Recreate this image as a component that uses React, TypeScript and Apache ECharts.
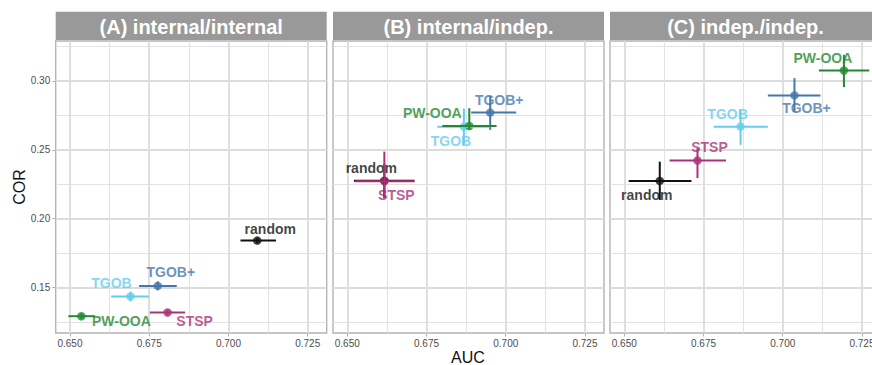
import React, { useEffect, useRef } from "react";
import * as echarts from "echarts";

// ---------- data ----------
const METHODS = ["random", "TGOB+", "TGOB", "PW-OOA", "STSP"];
const COLORS = ["#111111", "#4477AA", "#66CCEE", "#228833", "#AA3377"];
const PANEL_TITLES = ["(A) internal/internal", "(B) internal/indep.", "(C) indep./indep."];

// Panel A: internal/internal
const AUC_A = [0.7091, 0.6777, 0.6691, 0.6536, 0.6808];
const AUC_LO_A = [0.7038, 0.6718, 0.663, 0.6495, 0.6752];
const AUC_HI_A = [0.715, 0.6837, 0.6749, 0.6579, 0.6863];
const COR_A = [0.1841, 0.1512, 0.1435, 0.1292, 0.1319];
const COR_LO_A = [0.182, 0.148, 0.14, 0.1272, 0.1298];
const COR_HI_A = [0.1862, 0.1545, 0.147, 0.1312, 0.134];

// Panel B: internal/indep.
const AUC_B = [0.6617, 0.6951, 0.6868, 0.6885, 0.6617];
const AUC_LO_B = [0.6521, 0.6891, 0.6784, 0.68, 0.6525];
const AUC_HI_B = [0.6712, 0.7033, 0.695, 0.6971, 0.6712];
const COR_B = [0.2276, 0.277, 0.2668, 0.2673, 0.2272];
const COR_LO_B = [0.215, 0.2645, 0.2536, 0.2645, 0.2149];
const COR_HI_B = [0.24, 0.289, 0.28, 0.2802, 0.2487];

// Panel C: indep./indep.
const AUC_C = [0.6612, 0.7037, 0.6867, 0.7193, 0.6731];
const AUC_LO_C = [0.6514, 0.6953, 0.6782, 0.7114, 0.6643];
const AUC_HI_C = [0.6712, 0.7119, 0.6953, 0.7273, 0.6821];
const COR_C = [0.2274, 0.2895, 0.2668, 0.3076, 0.2422];
const COR_LO_C = [0.2136, 0.2775, 0.2536, 0.2955, 0.2294];
const COR_HI_C = [0.2414, 0.302, 0.279, 0.319, 0.2512];

const X_TICKS = [0.65, 0.675, 0.7, 0.725];
const X_MINOR = [0.6625, 0.6875, 0.7125];
const Y_TICKS = [0.15, 0.2, 0.25, 0.3];
const Y_MINOR = [0.125, 0.175, 0.225, 0.275, 0.325];
const X_RANGE = [0.6455, 0.731];
const Y_RANGE = [0.117, 0.329];

// ---------- layout ----------
const FONT = "'Liberation Sans', Arial, Helvetica, sans-serif";
const PANEL_LEFT = [55.7, 333, 610];
const PANEL_W = 271;
const PANEL_TOP = 41;
const PANEL_H = 292;
// label offsets (px) relative to each point, per panel, per method
const LABEL_OFFSETS = [
  [[13, -12], [13, -14], [-19, -14], [40, 5], [27, 9]],
  [[-13, -13], [9, -13], [-13, 14], [-37, -13], [12, 14]],
  [[-13, 14], [12, 13], [-13, -13], [-21, -12], [12, -14]],
];

const AUC = [AUC_A, AUC_B, AUC_C];
const AUC_LO = [AUC_LO_A, AUC_LO_B, AUC_LO_C];
const AUC_HI = [AUC_HI_A, AUC_HI_B, AUC_HI_C];
const COR = [COR_A, COR_B, COR_C];
const COR_LO = [COR_LO_A, COR_LO_B, COR_LO_C];
const COR_HI = [COR_HI_A, COR_HI_B, COR_HI_C];

function buildOption(): any {
  const grids = PANEL_LEFT.map((l) => ({
    left: l,
    top: PANEL_TOP,
    width: PANEL_W,
    height: PANEL_H,
    show: true,
    borderColor: "#b3b3b3",
    borderWidth: 1.4,
    backgroundColor: "#ffffff",
    containLabel: false,
    outerBoundsMode: "none",
  }));

  const xAxes: any[] = [];
  const yAxes: any[] = [];
  for (let p = 0; p < 3; p++) {
    xAxes.push({
      type: "value",
      gridIndex: p,
      position: "bottom",
      min: X_RANGE[0],
      max: X_RANGE[1],
      axisLine: { show: false },
      axisTick: { show: true, length: 3.5, lineStyle: { color: "#b3b3b3", width: 1 }, customValues: X_TICKS },
      axisLabel: {
        customValues: X_TICKS,
        formatter: (v: number) => v.toFixed(3),
        color: "#4d4d4d",
        fontSize: 10,
        margin: 5,
        fontFamily: FONT,
      },
      splitLine: { show: true, lineStyle: { color: "#dcdcdc", width: 1.8 } },
    });
    yAxes.push({
      type: "value",
      gridIndex: p,
      position: "left",
      min: Y_RANGE[0],
      max: Y_RANGE[1],
      axisLine: { show: false },
      axisTick: { show: p === 0, length: 3.5, lineStyle: { color: "#b3b3b3", width: 1 }, customValues: Y_TICKS },
      axisLabel: {
        show: p === 0,
        customValues: Y_TICKS,
        formatter: (v: number) => v.toFixed(2),
        color: "#4d4d4d",
        fontSize: 10,
        margin: 5.5,
        fontFamily: FONT,
      },
      splitLine: { show: true, lineStyle: { color: "#dcdcdc", width: 1.8 } },
    });
  }
  for (let p = 0; p < 3; p++) {
    xAxes.push({
      type: "value",
      gridIndex: p,
      position: "bottom",
      min: X_RANGE[0],
      max: X_RANGE[1],
      axisLine: { show: false },
      axisTick: { show: false, customValues: X_MINOR },
      axisLabel: { show: false },
      splitLine: { show: true, lineStyle: { color: "#e2e2e2", width: 1 } },
    });
    yAxes.push({
      type: "value",
      gridIndex: p,
      position: "left",
      min: Y_RANGE[0],
      max: Y_RANGE[1],
      axisLine: { show: false },
      axisTick: { show: false, customValues: Y_MINOR },
      axisLabel: { show: false },
      splitLine: { show: true, lineStyle: { color: "#e2e2e2", width: 1 } },
    });
  }

  const series: any[] = [];
  for (let p = 0; p < 3; p++) {
    series.push({
      type: "scatter",
      xAxisIndex: p,
      yAxisIndex: p,
      z: 2,
      symbol: "circle",
      symbolSize: 8.5,
      silent: true,
      emphasis: { disabled: true },
      data: METHODS.map((m, i) => ({
        value: [AUC[p][i], COR[p][i]],
        itemStyle: { color: COLORS[i] },
        label: {
          show: true,
          formatter: m,
          position: "inside",
          offset: LABEL_OFFSETS[p][i],
          color: COLORS[i],
          fontSize: 14,
          fontWeight: "bold",
          fontFamily: FONT,
          align: "center",
          verticalAlign: "middle",
          textBorderWidth: 0,
        },
      })),
    });
    series.push({
      type: "custom",
      xAxisIndex: p,
      yAxisIndex: p,
      z: 3,
      silent: true,
      clip: false,
      encode: { x: [0, 1, 2], y: [3, 4, 5] },
      data: METHODS.map((_, i) => [
        AUC[p][i],
        AUC_LO[p][i],
        AUC_HI[p][i],
        COR[p][i],
        COR_LO[p][i],
        COR_HI[p][i],
      ]),
      renderItem: (params: any, api: any) => {
        const color = COLORS[params.dataIndex];
        const x = api.value(0);
        const y = api.value(3);
        const l = api.coord([api.value(1), y]);
        const h = api.coord([api.value(2), y]);
        const b = api.coord([x, api.value(4)]);
        const t = api.coord([x, api.value(5)]);
        return {
          type: "group",
          children: [
            {
              type: "line",
              shape: { x1: l[0], y1: l[1], x2: h[0], y2: h[1] },
              style: { stroke: color, lineWidth: 2 },
            },
            {
              type: "line",
              shape: { x1: b[0], y1: b[1], x2: t[0], y2: t[1] },
              style: { stroke: color, lineWidth: 2 },
            },
          ],
        };
      },
    });
  }

  const graphics: any[] = [];
  PANEL_LEFT.forEach((l, p) => {
    graphics.push({
      type: "rect",
      shape: { x: l, y: 11.7, width: PANEL_W, height: 28.3 },
      style: { fill: "#999999" },
      silent: true,
    });
    graphics.push({
      type: "text",
      x: l + PANEL_W / 2,
      y: 26.5,
      style: {
        text: PANEL_TITLES[p],
        fill: "#ffffff",
        font: `bold 20px ${FONT}`,
        textAlign: "center",
        textVerticalAlign: "middle",
        align: "center",
        verticalAlign: "middle",
      },
      silent: true,
    });
  });
  graphics.push({
    type: "text",
    x: 19,
    y: PANEL_TOP + PANEL_H / 2,
    rotation: Math.PI / 2,
    style: {
      text: "COR",
      fill: "#111111",
      font: `16px ${FONT}`,
      textAlign: "center",
      textVerticalAlign: "middle",
      align: "center",
      verticalAlign: "middle",
    },
    silent: true,
  });
  graphics.push({
    type: "text",
    x: 468,
    y: 357,
    style: {
      text: "AUC",
      fill: "#111111",
      font: `16px ${FONT}`,
      textAlign: "center",
      textVerticalAlign: "middle",
      align: "center",
      verticalAlign: "middle",
    },
    silent: true,
  });

  return {
    animation: false,
    backgroundColor: "#ffffff",
    grid: grids,
    xAxis: xAxes,
    yAxis: yAxes,
    series,
    graphic: graphics,
  };
}

export default function App() {
  const ref = useRef<HTMLDivElement>(null);
  useEffect(() => {
    if (!ref.current) return;
    const chart = echarts.init(ref.current, null, { renderer: "svg" });
    chart.setOption(buildOption());
    return () => {
      chart.dispose();
    };
  }, []);
  return (
    <div
      style={{
        position: "absolute",
        left: 0,
        top: 0,
        width: 872,
        height: 365,
        overflow: "hidden",
        background: "#ffffff",
      }}
    >
      <div ref={ref} style={{ width: 880, height: 365 }} />
    </div>
  );
}
